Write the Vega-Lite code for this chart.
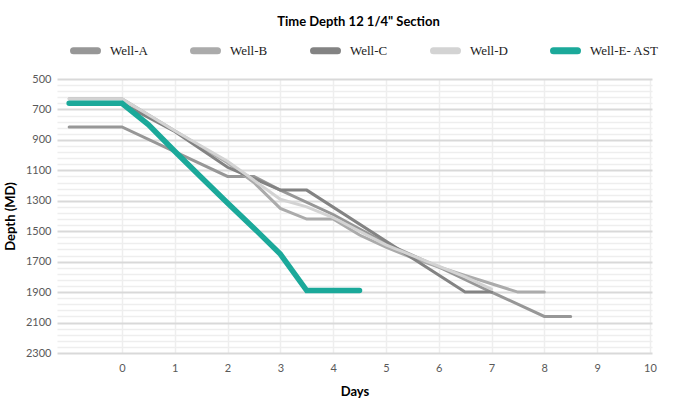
{
  "$schema": "https://vega.github.io/schema/vega-lite/v6.json",
  "width": 595,
  "height": 274,
  "autosize": {"type": "none"},
  "padding": {"left": 57, "top": 79, "right": 21, "bottom": 51},
  "background": "white",
  "config": {
    "view": {"stroke": null},
    "font": "Lato"
  },
  "title": {
    "text": "Time  Depth 12 1/4\" Section",
    "font": "Lato",
    "fontSize": 13,
    "fontWeight": "bold",
    "color": "#000000",
    "anchor": "middle",
    "dx": 4,
    "offset": 6
  },
  "data": {
    "values": [
      {"well": "Well-A", "day": -1, "depth": 815},
      {"well": "Well-A", "day": 0, "depth": 815},
      {"well": "Well-A", "day": 2, "depth": 1140},
      {"well": "Well-A", "day": 2.5, "depth": 1140},
      {"well": "Well-A", "day": 3, "depth": 1230},
      {"well": "Well-A", "day": 4, "depth": 1390},
      {"well": "Well-A", "day": 5, "depth": 1580},
      {"well": "Well-A", "day": 6, "depth": 1735},
      {"well": "Well-A", "day": 7, "depth": 1900},
      {"well": "Well-A", "day": 8, "depth": 2060},
      {"well": "Well-A", "day": 8.5, "depth": 2060},
      {"well": "Well-B", "day": -1, "depth": 630},
      {"well": "Well-B", "day": 0, "depth": 630},
      {"well": "Well-B", "day": 1, "depth": 840},
      {"well": "Well-B", "day": 2, "depth": 1050},
      {"well": "Well-B", "day": 2.5, "depth": 1180},
      {"well": "Well-B", "day": 3, "depth": 1350},
      {"well": "Well-B", "day": 3.5, "depth": 1420},
      {"well": "Well-B", "day": 4, "depth": 1420},
      {"well": "Well-B", "day": 4.5, "depth": 1525},
      {"well": "Well-B", "day": 5, "depth": 1605},
      {"well": "Well-B", "day": 5.5, "depth": 1675},
      {"well": "Well-B", "day": 6, "depth": 1735},
      {"well": "Well-B", "day": 6.5, "depth": 1790},
      {"well": "Well-B", "day": 7, "depth": 1845},
      {"well": "Well-B", "day": 7.5, "depth": 1900},
      {"well": "Well-B", "day": 8, "depth": 1900},
      {"well": "Well-C", "day": -1, "depth": 660},
      {"well": "Well-C", "day": 0, "depth": 660},
      {"well": "Well-C", "day": 1, "depth": 845},
      {"well": "Well-C", "day": 2, "depth": 1080},
      {"well": "Well-C", "day": 3, "depth": 1230},
      {"well": "Well-C", "day": 3.5, "depth": 1230},
      {"well": "Well-C", "day": 6.5, "depth": 1900},
      {"well": "Well-C", "day": 7, "depth": 1900},
      {"well": "Well-D", "day": -1, "depth": 630},
      {"well": "Well-D", "day": 0, "depth": 630},
      {"well": "Well-D", "day": 1, "depth": 840},
      {"well": "Well-D", "day": 2, "depth": 1040},
      {"well": "Well-D", "day": 3, "depth": 1290},
      {"well": "Well-D", "day": 3.5, "depth": 1340},
      {"well": "Well-D", "day": 4, "depth": 1410},
      {"well": "Well-D", "day": 5, "depth": 1590},
      {"well": "Well-D", "day": 6, "depth": 1730},
      {"well": "Well-D", "day": 6.5, "depth": 1800},
      {"well": "Well-D", "day": 7, "depth": 1880},
      {"well": "Well-E- AST", "day": -1, "depth": 660},
      {"well": "Well-E- AST", "day": 0, "depth": 660},
      {"well": "Well-E- AST", "day": 0.5, "depth": 800},
      {"well": "Well-E- AST", "day": 1, "depth": 975},
      {"well": "Well-E- AST", "day": 1.5, "depth": 1145},
      {"well": "Well-E- AST", "day": 2, "depth": 1315},
      {"well": "Well-E- AST", "day": 2.5, "depth": 1480},
      {"well": "Well-E- AST", "day": 3, "depth": 1650},
      {"well": "Well-E- AST", "day": 3.5, "depth": 1890},
      {"well": "Well-E- AST", "day": 4, "depth": 1890},
      {"well": "Well-E- AST", "day": 4.5, "depth": 1890}
    ]
  },
  "encoding": {
    "x": {
      "field": "day",
      "type": "quantitative",
      "scale": {"domain": [-1.23, 10.04], "nice": false, "zero": false},
      "axis": {
        "title": "Days",
        "titleFont": "Lato",
        "titleFontSize": 13,
        "titleFontWeight": "bold",
        "titleColor": "#000000",
        "titlePadding": 12,
        "values": [0, 1, 2, 3, 4, 5, 6, 7, 8, 9, 10],
        "labelFont": "Lato",
        "labelFontSize": 11,
        "labelColor": "#595959",
        "labelPadding": 9,
        "ticks": false,
        "domain": false,
        "grid": true,
        "gridColor": "#eeeeee",
        "gridWidth": 1.5
      }
    },
    "y": {
      "field": "depth",
      "type": "quantitative",
      "scale": {"domain": [500, 2300], "reverse": true, "nice": false, "zero": false},
      "axis": {
        "title": "Depth (MD)",
        "titleFont": "Lato",
        "titleFontSize": 13,
        "titleFontWeight": "bold",
        "titleColor": "#000000",
        "titlePadding": 8,
        "values": [500, 540, 580, 620, 660, 700, 740, 780, 820, 860, 900, 940, 980, 1020, 1060, 1100, 1140, 1180, 1220, 1260, 1300, 1340, 1380, 1420, 1460, 1500, 1540, 1580, 1620, 1660, 1700, 1740, 1780, 1820, 1860, 1900, 1940, 1980, 2020, 2060, 2100, 2140, 2180, 2220, 2260, 2300],
        "labelExpr": "datum.value % 200 == 100 ? datum.label : ''",
        "format": "d",
        "labelOverlap": false,
        "labelFont": "Lato",
        "labelFontSize": 11,
        "labelColor": "#595959",
        "labelPadding": 6,
        "ticks": false,
        "domain": false,
        "grid": true,
        "gridColor": {"condition": {"test": "datum.value % 200 == 100", "value": "#d9d9d9"}, "value": "#eeeeee"},
        "gridWidth": {"condition": {"test": "datum.value % 200 == 100", "value": 2}, "value": 1.5}
      }
    },
    "color": {
      "field": "well",
      "type": "nominal",
      "scale": {
        "domain": ["Well-A", "Well-B", "Well-C", "Well-D", "Well-E- AST"],
        "range": ["#979797", "#ababab", "#838383", "#d3d3d3", "#1ba99a"]
      },
      "legend": {
        "title": null,
        "orient": "none",
        "legendX": 13,
        "legendY": -44,
        "direction": "horizontal",
        "columns": 5,
        "columnPadding": 31,
        "padding": 0,
        "symbolType": "stroke",
        "symbolSize": 576,
        "symbolStrokeWidth": 7,
        "labelOffset": 9,
        "labelLimit": 200,
        "labelFont": "Liberation Serif",
        "labelFontSize": 13,
        "labelColor": "#222222",
        "encode": {"symbols": {"update": {"strokeCap": {"value": "round"}, "strokeWidth": {"value": 7}}}}
      }
    }
  },
  "layer": [
    {
      "transform": [{"filter": "datum.well != 'Well-E- AST'"}],
      "mark": {"type": "line", "strokeCap": "round", "strokeJoin": "miter", "strokeWidth": 3}
    },
    {
      "transform": [{"filter": "datum.well == 'Well-E- AST'"}],
      "mark": {"type": "line", "strokeCap": "round", "strokeJoin": "miter", "strokeWidth": 5.5}
    }
  ]
}
